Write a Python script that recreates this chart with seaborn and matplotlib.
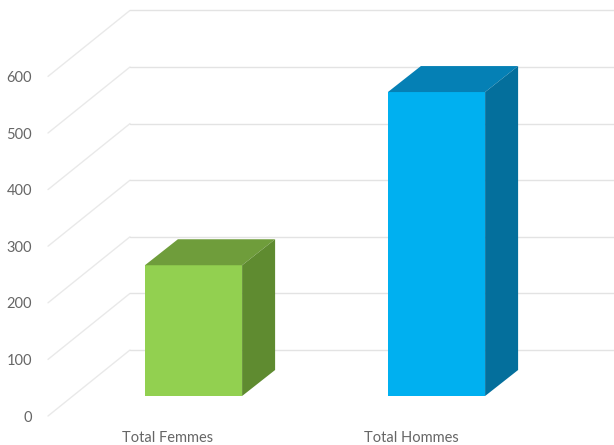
import pandas as pd
import seaborn as sns
import matplotlib.pyplot as plt
from matplotlib.patches import Polygon

categories = ['Total Femmes', 'Total Hommes']
values = [231, 537]
y_ticks = [0, 100, 200, 300, 400, 500, 600]

front_colors = ['#92D050', '#00B0F0']
top_colors = ['#6F9D3B', '#0580B5']
side_colors = ['#5F8B30', '#046F9C']
grid_color = '#E3E3E3'
text_color = '#666666'

# pixels per unit, the picture is a fake 3D chart drawn on a flat axes
px_x = 243
px_y = 0.566
depth_x = 33 / px_x
depth_y = 26 / px_y

sns.set_theme(style='white')
plt.rcParams['font.family'] = ['Lato', 'DejaVu Sans']

fig = plt.figure(figsize=(6.14, 4.45), dpi=100)
ax = fig.add_axes([0, 0, 1, 1])

df = pd.DataFrame({'categorie': categories, 'total': values})
sns.barplot(data=df, x='categorie', y='total', hue='categorie',
            palette=front_colors, width=0.4, legend=False, ax=ax, zorder=3,
            saturation=1, linewidth=0)

ax.set_xlim(-193.5 / px_x, 420.5 / px_x)
ax.set_ylim(-49 / px_y, 396 / px_y)

# floor of the walls relative to the floor of the bars
front_x = (48 - 193.5) / px_x
back_x = (130 - 193.5) / px_x
front_shift = -20 / px_y
back_shift = 46 / px_y

for v in y_ticks:
    ax.plot([front_x, back_x], [v + front_shift, v + back_shift],
            color='#E9E9E9', lw=1.0, zorder=1, solid_capstyle='round')
    ax.plot([back_x, 420.5 / px_x], [v + back_shift, v + back_shift],
            color=grid_color, lw=1.0, zorder=1)

# top and side faces built from the bars seaborn drew
for bar, top_c, side_c in zip(ax.patches, top_colors, side_colors):
    x0 = bar.get_x()
    x1 = x0 + bar.get_width()
    h = bar.get_height()
    ax.add_patch(Polygon([(x0, h), (x1, h), (x1 + depth_x, h + depth_y), (x0 + depth_x, h + depth_y)],
                         facecolor=top_c, edgecolor='none', zorder=3))
    ax.add_patch(Polygon([(x1, 0), (x1 + depth_x, depth_y), (x1 + depth_x, h + depth_y), (x1, h)],
                         facecolor=side_c, edgecolor='none', zorder=3))

ax.set_yticks([v + front_shift for v in y_ticks])
ax.set_yticklabels(y_ticks)
ax.set_xticks([0 - 25.5 / px_x, 1 - 25.5 / px_x])
ax.set_xticklabels(categories)
ax.tick_params(axis='y', length=0, pad=-32 * 0.72, labelsize=10.5, labelcolor=text_color)
ax.tick_params(axis='x', length=0, pad=-13.5 * 0.72, labelsize=10.5, labelcolor=text_color)
ax.set_xlabel('')
ax.set_ylabel('')
sns.despine(ax=ax, left=True, bottom=True)

fig.savefig('out.png', dpi=100)
